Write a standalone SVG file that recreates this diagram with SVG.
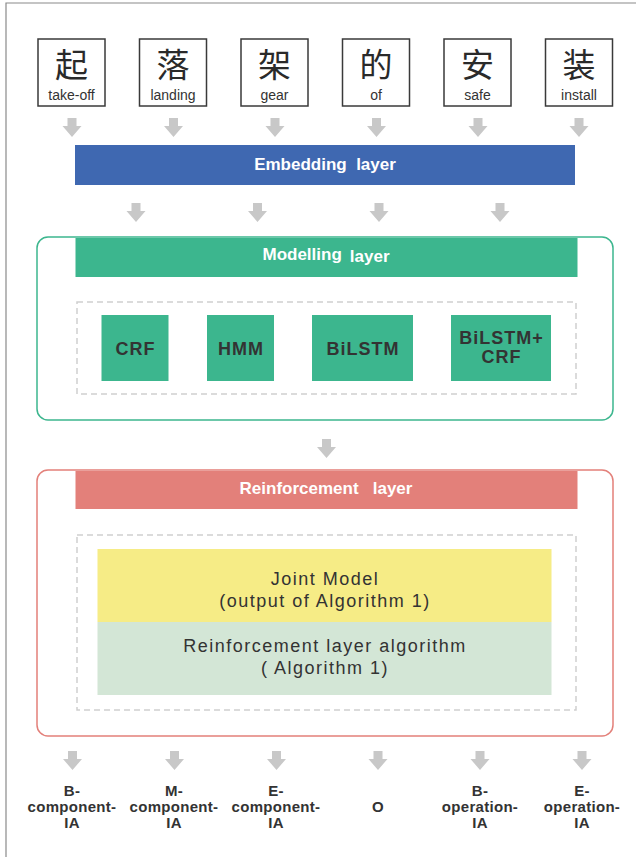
<svg xmlns="http://www.w3.org/2000/svg" width="636" height="857" viewBox="0 0 636 857">
<style>
.frame{stroke:#8a8a8a;stroke-width:1.2;fill:none}
.wbox{fill:#fff;stroke:#3a3a3a;stroke-width:1.5}
.zh{font-family:"Noto Sans CJK SC","Noto Sans CJK JP",sans-serif;font-size:33px;fill:#2a2a2a;text-anchor:middle}
.en{font-family:"Liberation Sans",Arial,sans-serif;font-size:14px;fill:#333;text-anchor:middle}
.bar{font-family:"Liberation Sans",Arial,sans-serif;font-size:17px;font-weight:bold;fill:#fff;text-anchor:middle}
.mtxt{font-family:"Liberation Sans",Arial,sans-serif;font-size:18px;font-weight:bold;fill:#333;text-anchor:middle;letter-spacing:1px}
.jtxt{font-family:"Liberation Sans",Arial,sans-serif;font-size:18px;fill:#333;text-anchor:middle;letter-spacing:1.5px}
.out{font-family:"Liberation Sans",Arial,sans-serif;font-size:15px;font-weight:bold;fill:#333;text-anchor:middle;letter-spacing:0.3px}
.dash{fill:none;stroke:#cfcfcf;stroke-width:1.5;stroke-dasharray:6 4}
.arrow{fill:#c8c8c8}
</style>
<defs>
<path id="arr" d="M-4.5,0 H4.5 V8 H9.5 L0,19 L-9.5,8 H-4.5 Z"/>
</defs>

<g id="frame">
<path class="frame" d="M6,857 V3 H636"/>
</g>

<g id="word-1"><rect class="wbox" x="38" y="39" width="67" height="67"/><text class="zh" x="71.5" y="77">起</text><text class="en" x="71.5" y="100">take-off</text></g>
<g id="word-2"><rect class="wbox" x="139.5" y="39" width="67" height="67"/><text class="zh" x="173" y="77">落</text><text class="en" x="173" y="100">landing</text></g>
<g id="word-3"><rect class="wbox" x="241" y="39" width="67" height="67"/><text class="zh" x="274.5" y="77">架</text><text class="en" x="274.5" y="100">gear</text></g>
<g id="word-4"><rect class="wbox" x="342.5" y="39" width="67" height="67"/><text class="zh" x="376" y="77">的</text><text class="en" x="376" y="100">of</text></g>
<g id="word-5"><rect class="wbox" x="444" y="39" width="67" height="67"/><text class="zh" x="477.5" y="77">安</text><text class="en" x="477.5" y="100">safe</text></g>
<g id="word-6"><rect class="wbox" x="545.5" y="39" width="67" height="67"/><text class="zh" x="579" y="77">装</text><text class="en" x="579" y="100">install</text></g>

<g id="embedding-layer">
<rect x="75" y="145" width="500" height="40" fill="#3f68b1"/>
<text class="bar" x="325" y="170" xml:space="preserve">Embedding  layer</text>
</g>

<g id="modelling-layer">
<rect x="37" y="237" width="576" height="183" rx="11" fill="none" stroke="#3cb68e" stroke-width="1.5"/>
<rect x="75.5" y="238" width="502" height="39" fill="#3cb68e"/>
<text class="bar" x="326" y="262"><tspan dy="-2">Modelling</tspan><tspan dx="8" dy="2">layer</tspan></text>
<rect class="dash" x="77" y="302" width="499" height="92"/>
</g>
<g id="crf"><rect x="101.5" y="315" width="67" height="66" fill="#3cb68e"/><text class="mtxt" x="135.5" y="355">CRF</text></g>
<g id="hmm"><rect x="207" y="315" width="67" height="66" fill="#3cb68e"/><text class="mtxt" x="241" y="355">HMM</text></g>
<g id="bilstm"><rect x="312" y="315" width="101" height="66" fill="#3cb68e"/><text class="mtxt" x="363" y="355">BiLSTM</text></g>
<g id="bilstm-crf"><rect x="451" y="315" width="100" height="66" fill="#3cb68e"/><text class="mtxt" x="501.5" y="344">BiLSTM+</text><text class="mtxt" x="501.5" y="363">CRF</text></g>

<g id="reinforcement-layer">
<rect x="37" y="470" width="576" height="266" rx="11" fill="none" stroke="#e3807a" stroke-width="1.5"/>
<rect x="75.5" y="471" width="502" height="38" fill="#e3807a"/>
<text class="bar" x="326" y="494" xml:space="preserve">Reinforcement   layer</text>
<rect class="dash" x="77" y="535" width="499" height="175"/>
</g>
<g id="joint-model"><rect x="97.5" y="549" width="454" height="73" fill="#f6ec86"/><text class="jtxt" x="325" y="585">Joint Model</text><text class="jtxt" x="325" y="607">(output of Algorithm 1)</text></g>
<g id="algorithm"><rect x="97.5" y="622" width="454" height="73" fill="#d3e6d6"/><text class="jtxt" x="325" y="652">Reinforcement layer algorithm</text><text class="jtxt" x="325" y="674">( Algorithm 1)</text></g>

<g id="out-1"><text class="out" x="72" y="796">B-</text><text class="out" x="72" y="812">component-</text><text class="out" x="72" y="828">IA</text></g>
<g id="out-2"><text class="out" x="174" y="796">M-</text><text class="out" x="174" y="812">component-</text><text class="out" x="174" y="828">IA</text></g>
<g id="out-3"><text class="out" x="276" y="796">E-</text><text class="out" x="276" y="812">component-</text><text class="out" x="276" y="828">IA</text></g>
<g id="out-4"><text class="out" x="378" y="812">O</text></g>
<g id="out-5"><text class="out" x="480" y="796">B-</text><text class="out" x="480" y="812">operation-</text><text class="out" x="480" y="828">IA</text></g>
<g id="out-6"><text class="out" x="582" y="796">E-</text><text class="out" x="582" y="812">operation-</text><text class="out" x="582" y="828">IA</text></g>

<g id="connectors" class="arrow">
<use href="#arr" x="72" y="118"/>
<use href="#arr" x="173.5" y="118"/>
<use href="#arr" x="275" y="118"/>
<use href="#arr" x="376.5" y="118"/>
<use href="#arr" x="478" y="118"/>
<use href="#arr" x="579" y="118"/>
<use href="#arr" x="136" y="203"/>
<use href="#arr" x="257.5" y="203"/>
<use href="#arr" x="379" y="203"/>
<use href="#arr" x="500" y="203"/>
<use href="#arr" x="326.5" y="439"/>
<use href="#arr" x="72.5" y="751"/>
<use href="#arr" x="174.5" y="751"/>
<use href="#arr" x="276.5" y="751"/>
<use href="#arr" x="378" y="751"/>
<use href="#arr" x="480" y="751"/>
<use href="#arr" x="582" y="751"/>
</g>
</svg>
